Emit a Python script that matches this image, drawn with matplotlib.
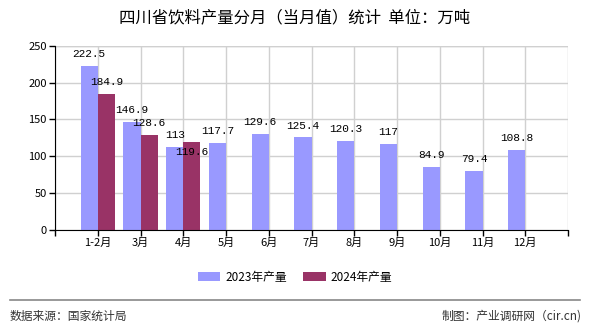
import matplotlib
matplotlib.use("Agg")
import matplotlib.pyplot as plt
import numpy as np

plt.rcParams['font.family'] = ['Noto Sans CJK SC', 'DejaVu Sans']

# monthly output, 10k tonnes
months = ['1-2月', '3月', '4月', '5月', '6月', '7月', '8月', '9月', '10月', '11月', '12月']
vals_2023 = [222.5, 146.9, 113, 117.7, 129.6, 125.4, 120.3, 117, 84.9, 79.4, 108.8]
vals_2024 = [184.9, 128.6, 119.6]
labels_2023 = ['222.5', '146.9', '113', '117.7', '129.6', '125.4', '120.3', '117', '84.9', '79.4', '108.8']
labels_2024 = ['184.9', '128.6', '119.6']

c23 = '#9999ff'
c24 = '#993366'

fig = plt.figure(figsize=(5.9, 3.3), dpi=100)
ax = fig.add_axes([55/590, 1-229.5/330, 513/590, 183.5/330])

x = np.arange(len(months))
w = 0.4
ax.bar(x - w/2, vals_2023, width=w, color=c23, zorder=2, label='2023年产量')
x24 = np.arange(len(vals_2024))
ax.bar(x24 + w/2, vals_2024, width=w, color=c24, zorder=2, label='2024年产量')

mono = dict(family='Liberation Mono', fontsize=8, ha='center', va='bottom', zorder=3)
for xi, v, s in zip(x, vals_2023, labels_2023):
    ax.annotate(s, (xi - w/2, v), xytext=(0, 5), textcoords='offset points', **mono)
# the last 2024 label sits lower so it doesn't collide with its neighbour
offs = [5, 5, -11]
for xi, v, s, o in zip(x24, vals_2024, labels_2024, offs):
    ax.annotate(s, (xi + w/2, v), xytext=(0, o), textcoords='offset points', **mono)

ax.set_xlim(-1, len(months))
ax.set_ylim(0, 250)
ax.set_yticks(np.arange(0, 251, 50))
ax.set_xticks(np.arange(-1, len(months) + 1))
ax.set_xticklabels([''] + months + [''])
ax.tick_params(axis='both', labelsize=8, length=4, width=1, color='black', direction='out', pad=2)
ax.grid(True, color='#d0d0d0', linewidth=1, zorder=0)
for side in ['top', 'right']:
    ax.spines[side].set_visible(False)
ax.spines['left'].set_color('black')
ax.spines['bottom'].set_color('black')
ax.axhline(250, color='#d0d0d0', linewidth=1, zorder=0)

fig.text(0.5, 1-18/330, '四川省饮料产量分月（当月值）统计  单位：万吨', ha='center', va='center', fontsize=11.8)

fig.legend(loc='center', bbox_to_anchor=(0.5, 1-277/330), ncol=2, frameon=False,
           fontsize=8.5, handlelength=1.9, handleheight=0.7, columnspacing=1.4, handletextpad=0.4)

fig.add_artist(plt.Line2D([10/590, 580/590], [1-300/330, 1-300/330], color='#888888', linewidth=1.2))
fig.text(10/590, 1-316/330, '数据来源：国家统计局', ha='left', va='center', fontsize=8.5, color='#333333')
fig.text(582/590, 1-316/330, '制图：产业调研网（cir.cn)', ha='right', va='center', fontsize=8.5, color='#333333')

fig.savefig('out.png', dpi=100)
